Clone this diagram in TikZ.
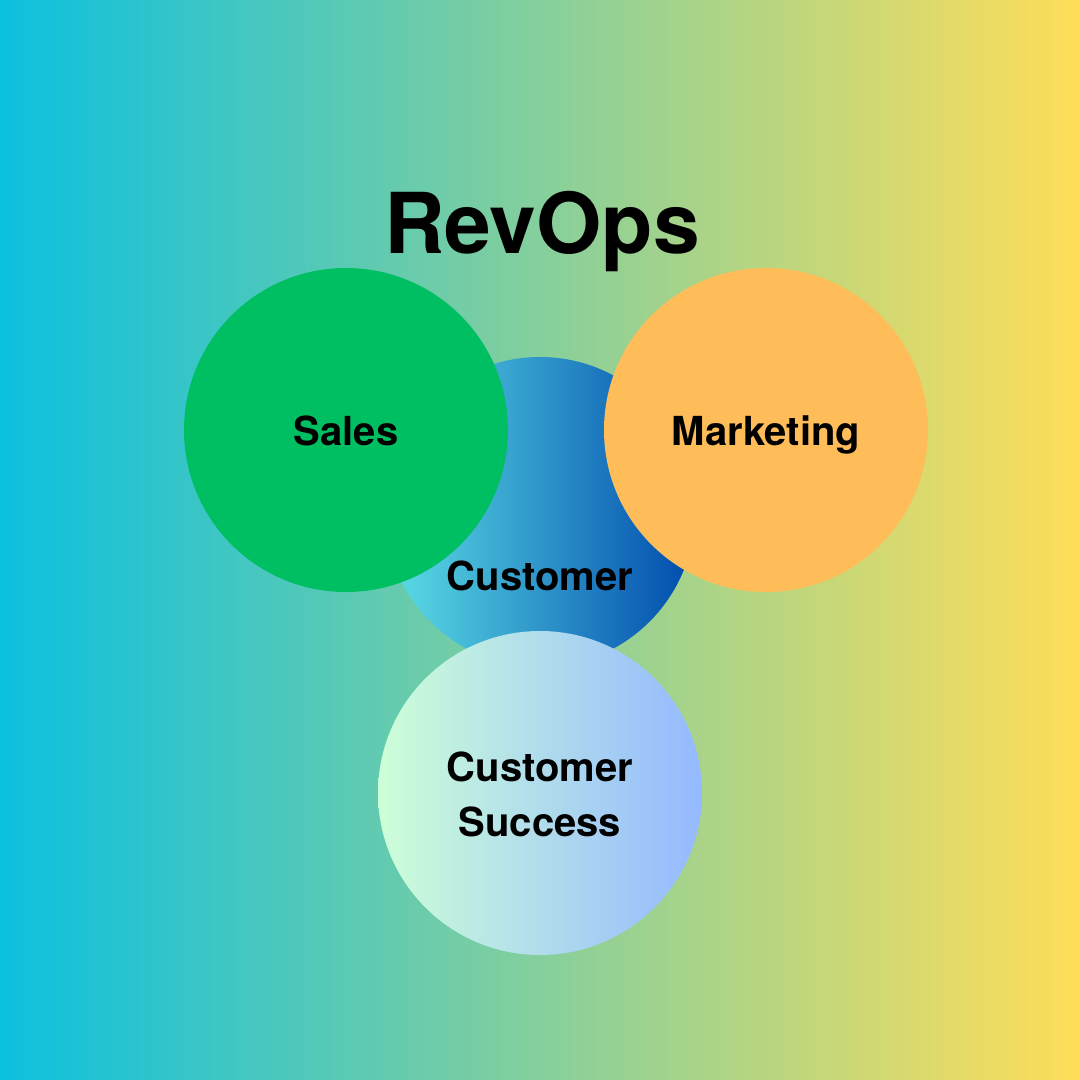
\documentclass[tikz,border=0pt]{standalone}
\usepackage{fontspec}
\setmainfont{TeX Gyre Heros}
\definecolor{bgleft}{HTML}{0CC0DF}
\definecolor{bgright}{HTML}{FFDE59}
\definecolor{custleft}{HTML}{5DE0E6}
\definecolor{custright}{HTML}{004AAD}
\definecolor{salesgreen}{HTML}{00BF63}
\definecolor{mktorange}{HTML}{FFBD59}
\definecolor{csleft}{HTML}{CDFFD8}
\definecolor{csright}{HTML}{94B9FF}
\begin{document}
\begin{tikzpicture}[x=1pt,y=-1pt,
  bubble/.style={circle, inner sep=0pt, draw=none},
  lbl/.style={font=\bfseries\fontsize{40}{55}\selectfont, text=black, align=center, inner sep=0pt, anchor=base},
  title/.style={font=\bfseries\fontsize{84}{90}\selectfont, text=black, inner sep=0pt, anchor=base}]
  \shade[left color=bgleft, right color=bgright] (0,0) rectangle (1080,1080);
  \useasboundingbox (0,0) rectangle (1080,1080);
  \node[bubble, minimum size=310pt, left color=custleft, right color=custright] (cust) at (540,512) {};
  \node[bubble, minimum size=324pt, fill=salesgreen] (sales) at (346,430) {};
  \node[bubble, minimum size=324pt, fill=mktorange] (mkt) at (766,430) {};
  \node[bubble, minimum size=324pt, left color=csleft, right color=csright] (cs) at (540,793) {};
  \node[title] (t) at (542,253) {RevOps};
  \node[lbl] (salesl) at (346,445) {Sales};
  \node[lbl] (mktl) at (766,445) {Marketing};
  \node[lbl] (custl) at (540,590) {Customer};
  \node[lbl] (csl1) at (540,781) {Customer};
  \node[lbl] (csl2) at (540,836) {Success};
\end{tikzpicture}
\end{document}
